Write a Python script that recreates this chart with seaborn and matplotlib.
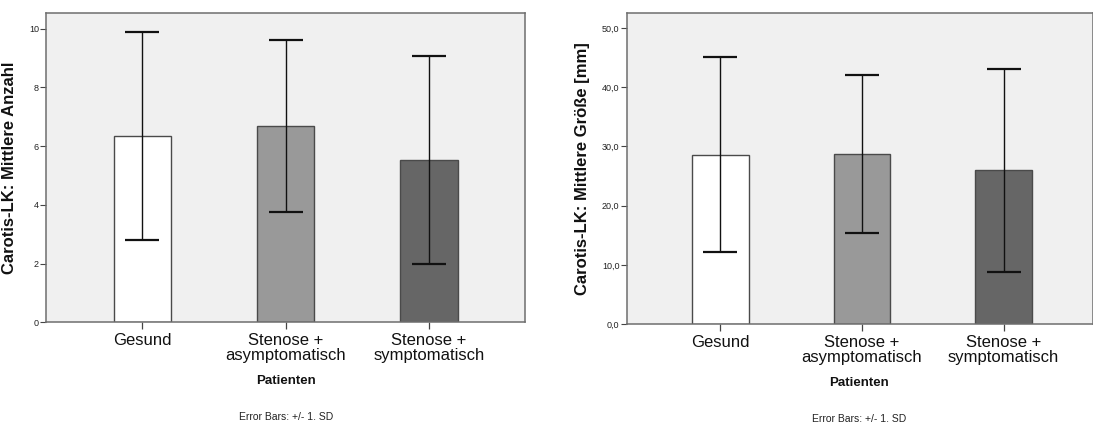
import matplotlib
matplotlib.use("Agg")
import matplotlib.pyplot as plt
import matplotlib.ticker as mticker
import seaborn as sns
import pandas as pd

categories = ["Gesund", "Stenose +\nasymptomatisch", "Stenose +\nsymptomatisch"]
anzahl_mean = [6.35, 6.67, 5.51]
anzahl_sd = [3.54, 2.93, 3.54]
groesse_mean = [28.6, 28.75, 25.95]
groesse_sd = [16.5, 13.3, 17.2]
bar_colors = ["#ffffff", "#999999", "#666666"]

sns.set_theme(style="white")
plt.rcParams["font.family"] = ["Liberation Sans", "DejaVu Sans"]

fig = plt.figure(figsize=(10.93, 4.23), dpi=100)
ax1 = fig.add_axes([46 / 1093, 1 - 322.3 / 423, 479.3 / 1093, 309.6 / 423])
ax2 = fig.add_axes([626.5 / 1093, 1 - 324 / 423, 466 / 1093, 311.3 / 423])


def draw(ax, means, sds, ylabel, ylim, xlim, ticks, fmt, label_x):
    df = pd.DataFrame({"cat": categories, "val": means})
    sns.barplot(data=df, x="cat", y="val", hue="cat", palette=bar_colors,
                legend=False, width=0.40, edgecolor="#4a4a4a", linewidth=1.0,
                errorbar=None, ax=ax, zorder=2)
    ax.errorbar(x=list(range(len(categories))), y=means, yerr=sds, fmt="none",
                ecolor="#111111", elinewidth=1.0, capsize=12, capthick=1.6, zorder=3)
    ax.set_facecolor("#f0f0f0")
    ax.set_xlim(*xlim)
    ax.set_ylim(*ylim)
    ax.set_yticks(ticks)
    ax.yaxis.set_major_formatter(mticker.FuncFormatter(fmt))
    for s in ax.spines.values():
        s.set_color("#6e6e6e")
        s.set_linewidth(1.1)
        s.set_visible(True)
    ax.tick_params(axis="y", direction="out", length=4, width=0.8, color="#444444",
                   labelsize=6.5, pad=1, labelcolor="#222222", left=True)
    ax.tick_params(axis="x", direction="out", length=5, width=0.9, color="#444444",
                   labelsize=12, pad=3, labelcolor="#111111", bottom=True)
    for lab in ax.get_xticklabels():
        lab.set_linespacing(0.95)
    ax.set_ylabel(ylabel, fontsize=12, fontweight="bold", color="#111111")
    ax.yaxis.set_label_coords(label_x, 0.5)
    ax.set_xlabel("Patienten", fontsize=9.5, fontweight="bold", labelpad=9, color="#111111")
    ax.grid(False)
    ax.text(0.5, -0.305, "Error Bars: +/- 1. SD", transform=ax.transAxes, ha="center",
            va="center", fontsize=7.5, color="#222222")


draw(ax1, anzahl_mean, anzahl_sd, "Carotis-LK: Mittlere Anzahl", (0, 10.54),
     (-0.673, 2.673), [0, 2, 4, 6, 8, 10], lambda v, p: f"{v:.0f}", (17 - 46) / 479.3)
draw(ax2, groesse_mean, groesse_sd, "Carotis-LK: Mittlere Größe [mm]", (0, 52.6),
     (-0.663, 2.627), [0, 10, 20, 30, 40, 50], lambda v, p: f"{v:.1f}".replace(".", ","),
     (590 - 626.5) / 466)

fig.savefig("out.png", dpi=100, facecolor="white")
